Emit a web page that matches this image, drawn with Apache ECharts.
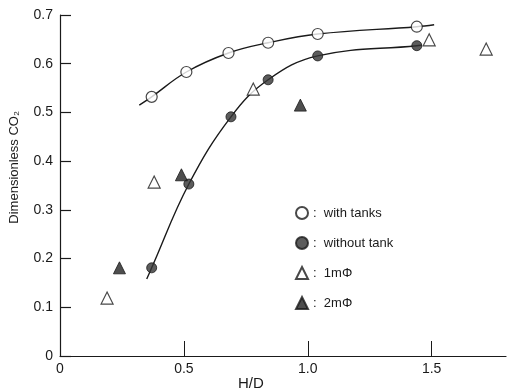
<!DOCTYPE html>
<html>
<head>
<meta charset="utf-8">
<script src="https://cdn.jsdelivr.net/npm/echarts@6/dist/echarts.min.js"></script>
<style>
  html, body { margin: 0; padding: 0; background: #fff; }
  #chart { width: 509px; height: 390px; }
</style>
</head>
<body>
<div id="chart"></div>
<script>
// measured points, H/D vs dimensionless CO2
const withTanksH = [0.37, 0.51, 0.68, 0.84, 1.04, 1.44]
const withTanksC = [0.532, 0.583, 0.622, 0.643, 0.661, 0.676]
const withoutTankH = [0.37, 0.52, 0.69, 0.84, 1.04, 1.44]
const withoutTankC = [0.181, 0.353, 0.491, 0.567, 0.616, 0.637]
const tank1mH = [0.19, 0.38, 0.78, 1.49, 1.72]
const tank1mC = [0.119, 0.357, 0.548, 0.649, 0.630]
const tank2mH = [0.24, 0.49, 0.97]
const tank2mC = [0.181, 0.372, 0.515]

// fitted curves drawn in the figure
const withTanksCurveH = [0.32, 0.37, 0.51, 0.68, 0.84, 1.04, 1.44, 1.51]
const withTanksCurveC = [0.515, 0.532, 0.583, 0.622, 0.643, 0.661, 0.676, 0.680]
const withoutTankCurveH = [0.35, 0.37, 0.52, 0.69, 0.84, 1.04, 1.44, 1.46]
const withoutTankCurveC = [0.158, 0.181, 0.353, 0.491, 0.567, 0.616, 0.637, 0.638]

const xTicks = [0, 0.5, 1.0, 1.5]
const xTickLabels = ['0', '0.5', '1.0', '1.5']

const zip = (xs, ys) => xs.map((x, i) => [x, ys[i]])

const ink = '#1a1a1a'
const font = 'Liberation Sans'

const chart = echarts.init(document.getElementById('chart'))

const option = {
  backgroundColor: '#fff',
  animation: false,
  textStyle: { fontFamily: font, color: ink },
  grid: { left: 60, right: 3, top: 15, bottom: 34 },
  legend: {
    data: ['with tanks', 'without tank', '1mΦ', '2mΦ'],
    orient: 'vertical',
    left: 290,
    top: 201,
    itemWidth: 12,
    itemHeight: 12,
    itemGap: 16,
    formatter: (name) => ':  ' + name,
    textStyle: { fontFamily: font, fontSize: 13, color: ink }
  },
  xAxis: {
    type: 'value',
    min: 0,
    max: 1.8,
    splitLine: { show: false },
    axisLine: { onZero: false, lineStyle: { color: ink, width: 1.2 } },
    axisTick: {
      inside: true,
      length: 15,
      customValues: xTicks.slice(1),
      lineStyle: { color: ink, width: 1 }
    },
    axisLabel: {
      customValues: xTicks,
      formatter: (v) => xTickLabels[xTicks.indexOf(v)] || '',
      color: ink,
      fontSize: 14,
      margin: 6
    }
  },
  yAxis: {
    type: 'value',
    min: 0,
    max: 0.7,
    interval: 0.1,
    splitLine: { show: false },
    axisLine: { onZero: false, lineStyle: { color: ink, width: 1.2 } },
    axisTick: { inside: true, length: 11, lineStyle: { color: ink, width: 1.2 } },
    axisLabel: {
      color: ink,
      fontSize: 14,
      margin: 7,
      formatter: (v) => (v === 0 ? '0' : v.toFixed(1))
    }
  },
  graphic: [
    {
      type: 'text',
      left: 8,
      top: 111,
      rotation: Math.PI / 2,
      style: { text: 'Dimensionless CO₂', fontFamily: font, fontSize: 13, fill: ink }
    },
    {
      type: 'text',
      left: 238,
      top: 376,
      style: { text: 'H/D', fontFamily: font, fontSize: 15, fill: ink }
    }
  ],
  series: [
    {
      name: 'with tanks curve',
      type: 'line',
      data: zip(withTanksCurveH, withTanksCurveC),
      smooth: 0.4,
      showSymbol: false,
      lineStyle: { color: ink, width: 1.4 },
      z: 1
    },
    {
      name: 'without tank curve',
      type: 'line',
      data: zip(withoutTankCurveH, withoutTankCurveC),
      smooth: 0.4,
      showSymbol: false,
      lineStyle: { color: ink, width: 1.4 },
      z: 1
    },
    {
      name: 'with tanks',
      type: 'scatter',
      data: zip(withTanksH, withTanksC),
      symbol: 'circle',
      symbolSize: 11,
      itemStyle: { color: '#fff', borderColor: ink, borderWidth: 1.2 },
      z: 3
    },
    {
      name: 'without tank',
      type: 'scatter',
      data: zip(withoutTankH, withoutTankC),
      symbol: 'circle',
      symbolSize: 10,
      itemStyle: { color: '#333', borderColor: ink, borderWidth: 1 },
      z: 3
    },
    {
      name: '1mΦ',
      type: 'scatter',
      data: zip(tank1mH, tank1mC),
      symbol: 'triangle',
      symbolSize: 12,
      itemStyle: { color: '#fff', borderColor: ink, borderWidth: 1.2 },
      z: 3
    },
    {
      name: '2mΦ',
      type: 'scatter',
      data: zip(tank2mH, tank2mC),
      symbol: 'triangle',
      symbolSize: 12,
      itemStyle: { color: '#222', borderColor: ink, borderWidth: 1 },
      z: 3
    }
  ]
}

chart.setOption(option)

window.addEventListener('resize', () => {
  chart.resize()
})
</script>
</body>
</html>
